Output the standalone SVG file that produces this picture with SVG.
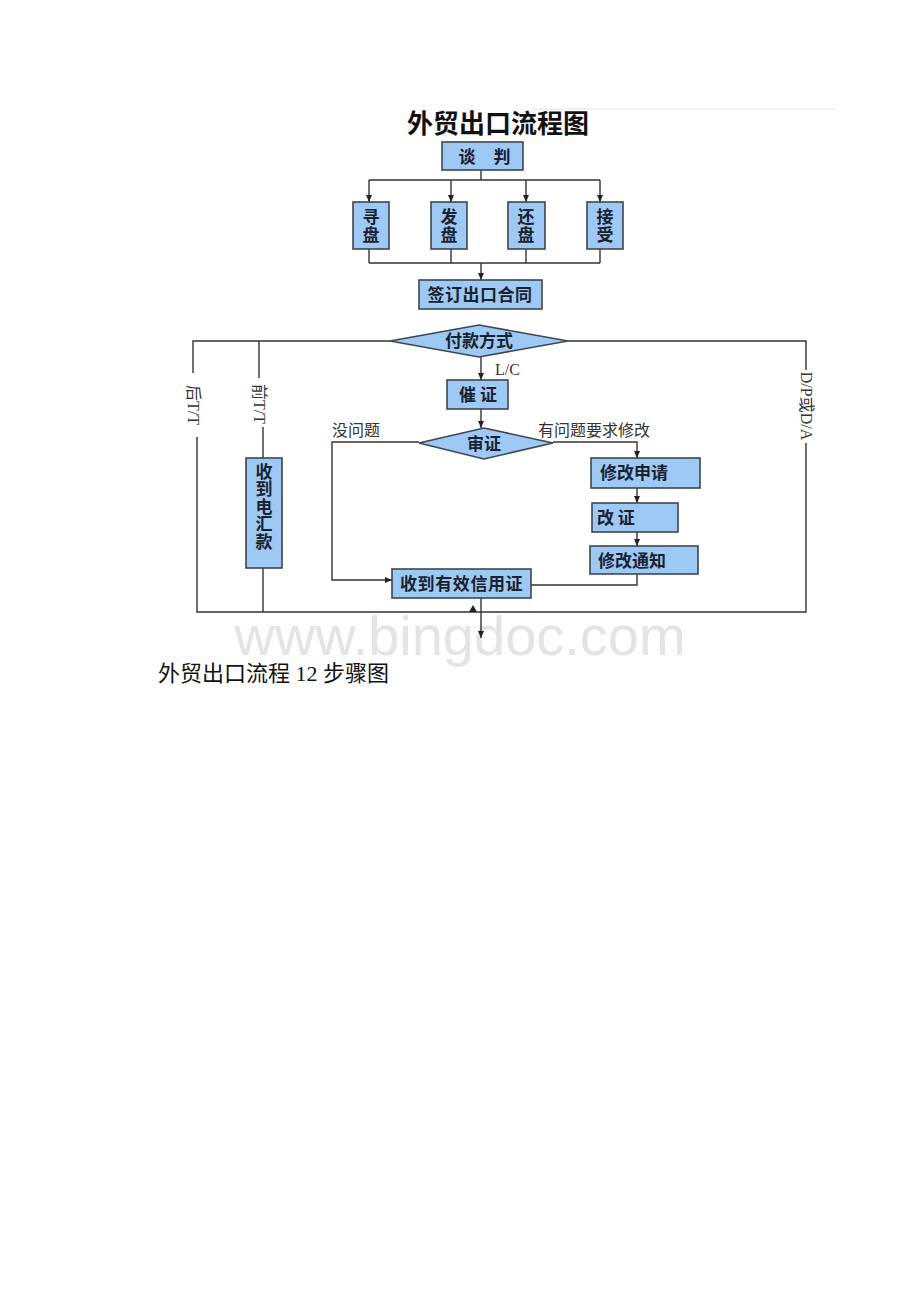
<svg xmlns="http://www.w3.org/2000/svg" width="920" height="1302" viewBox="0 0 920 1302">
<style>
.box{fill:#9ec9f4;stroke:#3c4650;stroke-width:1.6}
.bt{font-family:"Noto Sans CJK SC","Liberation Sans",sans-serif;font-weight:bold;font-size:17px;fill:#1a2230}
.vt{writing-mode:vertical-rl}
.ln{fill:none;stroke:#333;stroke-width:1.4}
.lbl{font-family:"Liberation Serif","Noto Sans CJK SC",serif;font-size:16px;fill:#333}
</style>
<defs>
<marker id="ah" markerWidth="8" markerHeight="8" refX="7" refY="4" orient="auto" markerUnits="userSpaceOnUse">
<path d="M0,1 L7,4 L0,7 Z" fill="#222"/>
</marker>
</defs>
<rect width="920" height="1302" fill="#fff"/>
<line x1="532" y1="109" x2="835" y2="109" stroke="#e2e2e2" stroke-width="1"/>
<text x="460" y="655" text-anchor="middle" font-family="Liberation Sans,sans-serif" font-size="56" fill="#e4e4e4">www.bingdoc.com</text>
<text x="498" y="133" text-anchor="middle" font-family="Noto Sans CJK SC,sans-serif" font-weight="bold" font-size="26" fill="#111">外贸出口流程图</text>

<g id="connectors">
<path class="ln" d="M481,170 V180 M369,180 H600"/>
<path class="ln" d="M369,180 V202" marker-end="url(#ah)"/>
<path class="ln" d="M451,180 V202" marker-end="url(#ah)"/>
<path class="ln" d="M526,180 V202" marker-end="url(#ah)"/>
<path class="ln" d="M600,180 V202" marker-end="url(#ah)"/>
<path class="ln" d="M369,249 V263 M451,249 V263 M526,249 V263 M600,249 V263 M369,263 H600"/>
<path class="ln" d="M481,263 V280" marker-end="url(#ah)"/>
<path class="ln" d="M390,341 H193 V373 M197,437 V612 H806 V443 M806,370 V341 H568"/>
<path class="ln" d="M259,341 V378 M263,427 V458 M263,568 V612"/>
<path class="ln" d="M481,357 V380" marker-end="url(#ah)"/>
<path class="ln" d="M481,409 V428" marker-end="url(#ah)"/>
<path class="ln" d="M419,442 H332 V580 H392" marker-end="url(#ah)"/>
<path class="ln" d="M553,442 H637 V458" marker-end="url(#ah)"/>
<path class="ln" d="M637,488 V503" marker-end="url(#ah)"/>
<path class="ln" d="M637,532 V546" marker-end="url(#ah)"/>
<path class="ln" d="M637,574 V585 H531"/>
<path class="ln" d="M481,598 V638" marker-end="url(#ah)"/>
<path d="M469,612 L473,605 L477,612 Z" fill="#222"/>
<text class="lbl" x="495" y="375">L/C</text>
<text class="lbl" x="332" y="436" font-size="17">没问题</text>
<text class="lbl" x="538" y="436" font-size="17">有问题要求修改</text>
<text class="lbl" transform="translate(193,405) rotate(90)" text-anchor="middle" dominant-baseline="central">后T/T</text>
<text class="lbl" transform="translate(259,404) rotate(90)" text-anchor="middle" dominant-baseline="central">前T/T</text>
<text class="lbl" transform="translate(806,406) rotate(90)" text-anchor="middle" dominant-baseline="central">D/P或D/A</text>
</g>

<g id="n-tanpan"><rect class="box" x="442" y="142" width="81" height="28"/><text class="bt" x="467" y="163" text-anchor="middle">谈</text><text class="bt" x="502" y="163" text-anchor="middle">判</text></g>
<g id="n-xunpan"><rect class="box" x="353" y="202" width="36" height="47"/><text class="bt vt" x="371" y="208" letter-spacing="1">寻盘</text></g>
<g id="n-fapan"><rect class="box" x="431" y="202" width="36" height="47"/><text class="bt vt" x="449" y="208" letter-spacing="1">发盘</text></g>
<g id="n-huanpan"><rect class="box" x="508" y="202" width="37" height="47"/><text class="bt vt" x="526" y="208" letter-spacing="1">还盘</text></g>
<g id="n-jieshou"><rect class="box" x="587" y="202" width="36" height="47"/><text class="bt vt" x="605" y="208" letter-spacing="1">接受</text></g>
<g id="n-qianding"><rect class="box" x="419" y="280" width="123" height="29"/><text class="bt" x="480" y="301" text-anchor="middle" letter-spacing="0.5">签订出口合同</text></g>
<g id="n-fukuan"><polygon class="box" points="390,341 479,325 568,341 479,357"/><text class="bt" x="479" y="347" text-anchor="middle">付款方式</text></g>
<g id="n-cuizheng"><rect class="box" x="447" y="380" width="61" height="29"/><text class="bt" x="478" y="401" text-anchor="middle">催 证</text></g>
<g id="n-shenzheng"><polygon class="box" points="419,443 484,428 553,443 484,459"/><text class="bt" x="484" y="450" text-anchor="middle">审证</text></g>
<g id="n-dianhui"><rect class="box" x="246" y="458" width="36" height="110"/><text class="bt vt" x="264" y="463" letter-spacing="0.5">收到电汇款</text></g>
<g id="n-xiugaishenqing"><rect class="box" x="591" y="458" width="109" height="30"/><text class="bt" x="600" y="479">修改申请</text></g>
<g id="n-gaizheng"><rect class="box" x="592" y="503" width="86" height="29"/><text class="bt" x="597" y="524">改 证</text></g>
<g id="n-xiugaitongzhi"><rect class="box" x="590" y="546" width="108" height="28"/><text class="bt" x="598" y="567">修改通知</text></g>
<g id="n-shoudao"><rect class="box" x="392" y="569" width="139" height="29"/><text class="bt" x="400" y="590" letter-spacing="0.6">收到有效信用证</text></g>

<text x="158" y="681" font-family="Liberation Serif,Noto Sans CJK SC,serif" font-size="22" fill="#111">外贸出口流程 12 步骤图</text>
</svg>
